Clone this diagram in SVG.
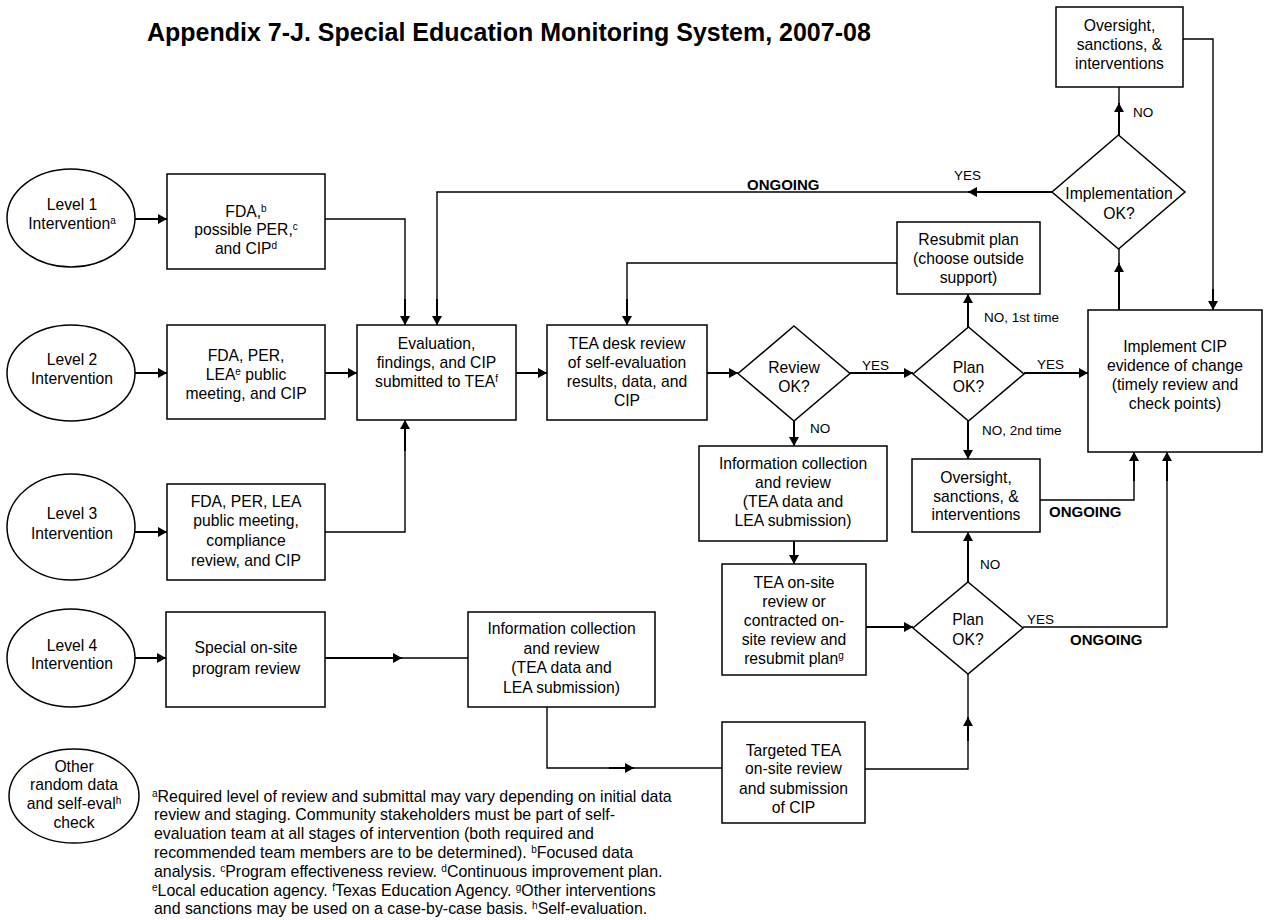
<svg xmlns="http://www.w3.org/2000/svg" width="1265" height="920" viewBox="0 0 1265 920">
<defs>
<marker id="ah" viewBox="0 0 9 10" refX="9" refY="5" markerWidth="9" markerHeight="10" markerUnits="userSpaceOnUse" orient="auto"><path d="M0,0 L9,5 L0,10 z" fill="#000"/></marker>
<style>
.bx{fill:#fff;stroke:#000;stroke-width:1.5}
.t{font-family:"Liberation Sans",Arial,sans-serif;font-size:15.7px;text-anchor:middle;fill:#000}
.s{font-family:"Liberation Sans",Arial,sans-serif;font-size:13.5px;fill:#000}
.b{font-family:"Liberation Sans",Arial,sans-serif;font-size:15px;font-weight:bold;fill:#000}
.fn{font-family:"Liberation Sans",Arial,sans-serif;font-size:15.9px;fill:#000}
.ttl{font-family:"Liberation Sans",Arial,sans-serif;font-size:25px;font-weight:bold;fill:#000}
.c{fill:none;stroke:#000;stroke-width:1.4}
.a{fill:none;stroke:#000;stroke-width:2;marker-end:url(#ah)}
</style>
</defs>
<rect width="1265" height="920" fill="#fff"/>
<text class="ttl" x="147" y="41">Appendix 7-J. Special Education Monitoring System, 2007-08</text>

<g id="connectors">
<line class="a" x1="135" y1="219" x2="167" y2="219"/>
<line class="a" x1="135" y1="373" x2="167" y2="373"/>
<line class="a" x1="135" y1="532" x2="167" y2="532"/>
<line class="a" x1="134" y1="658" x2="166" y2="658"/>
<polyline class="c" points="325,219 405,219 405,300"/>
<line class="a" x1="405" y1="299" x2="405" y2="325"/>
<line class="a" x1="325" y1="373" x2="357" y2="373"/>
<polyline class="c" points="325,532 405,532 405,450"/>
<line class="a" x1="405" y1="451" x2="405" y2="420"/>
<line class="a" x1="516" y1="373" x2="547" y2="373"/>
<line class="a" x1="707" y1="373" x2="738" y2="373"/>
<line class="a" x1="850" y1="373" x2="913" y2="373"/>
<line class="a" x1="1024" y1="373" x2="1088" y2="373"/>
<line class="a" x1="968" y1="327" x2="968" y2="294"/>
<polyline class="c" points="897,263 627,263 627,300"/>
<line class="a" x1="627" y1="299" x2="627" y2="325"/>
<line class="a" x1="968" y1="421" x2="968" y2="459"/>
<line class="a" x1="794" y1="421" x2="794" y2="446"/>
<line class="a" x1="794" y1="541" x2="794" y2="564"/>
<line class="a" x1="866" y1="627" x2="913" y2="627"/>
<line class="a" x1="968" y1="582" x2="968" y2="532"/>
<polyline class="c" points="1040,500 1134,500 1134,480"/>
<line class="a" x1="1134" y1="481" x2="1134" y2="452"/>
<polyline class="c" points="1023,627 1167,627 1167,480"/>
<line class="a" x1="1167" y1="481" x2="1167" y2="452"/>
<line class="a" x1="1119" y1="310" x2="1119" y2="263"/>
<line class="c" x1="1119" y1="264" x2="1119" y2="249"/>
<line class="a" x1="1119" y1="135" x2="1119" y2="103"/>
<line class="c" x1="1119" y1="104" x2="1119" y2="87"/>
<line class="a" x1="1052" y1="192" x2="968" y2="192"/>
<polyline class="c" points="969,192 437,192 437,300"/>
<line class="a" x1="437" y1="299" x2="437" y2="325"/>
<polyline class="c" points="1183,39 1213,39 1213,290"/>
<line class="a" x1="1213" y1="289" x2="1213" y2="310"/>
<line class="a" x1="325" y1="658" x2="402" y2="658"/>
<line class="c" x1="401" y1="658" x2="468" y2="658"/>
<polyline class="c" points="547,707 547,768 610,768"/>
<line class="a" x1="609" y1="768" x2="634" y2="768"/>
<line class="c" x1="633" y1="768" x2="722" y2="768"/>
<polyline class="c" points="865,769 968,769 968,740"/>
<line class="a" x1="968" y1="741" x2="968" y2="717"/>
<line class="c" x1="968" y1="718" x2="968" y2="674"/>
<text class="s" x="954" y="180">YES</text>
<text class="b" x="747" y="189.5">ONGOING</text>
<text class="s" x="1133" y="117">NO</text>
<text class="s" x="984" y="322">NO, 1st time</text>
<text class="s" x="862" y="370">YES</text>
<text class="s" x="1037" y="369">YES</text>
<text class="s" x="810" y="433">NO</text>
<text class="s" x="982" y="435">NO, 2nd time</text>
<text class="b" x="1049" y="517">ONGOING</text>
<text class="s" x="980" y="569">NO</text>
<text class="s" x="1027" y="624">YES</text>
<text class="b" x="1070" y="645">ONGOING</text>
</g>

<g id="level1">
<ellipse class="bx" cx="71" cy="218" rx="64" ry="49"/>
<text class="t" x="72" y="209.5">Level 1</text>
<text class="t" x="72" y="228.5">Intervention<tspan dy="-5" font-size="10">a</tspan></text>
</g>
<g id="level2">
<ellipse class="bx" cx="71" cy="373" rx="64" ry="48"/>
<text class="t" x="72" y="364.5">Level 2</text>
<text class="t" x="72" y="383.5">Intervention</text>
</g>
<g id="level3">
<ellipse class="bx" cx="71" cy="527" rx="64" ry="53"/>
<text class="t" x="72" y="518.5">Level 3</text>
<text class="t" x="72" y="538.5">Intervention</text>
</g>
<g id="level4">
<ellipse class="bx" cx="71" cy="658" rx="64" ry="49"/>
<text class="t" x="72" y="650.5">Level 4</text>
<text class="t" x="72" y="668.5">Intervention</text>
</g>
<g id="other">
<ellipse class="bx" cx="74" cy="796" rx="65" ry="47"/>
<text class="t" x="74" y="771.5">Other</text>
<text class="t" x="74" y="789.5">random data</text>
<text class="t" x="74" y="808.5">and self-eval<tspan dy="-5" font-size="10">h</tspan></text>
<text class="t" x="74" y="827.5">check</text>
</g>

<g id="fda1">
<rect class="bx" x="167" y="174" width="158" height="95"/>
<text class="t" x="246" y="216.5">FDA,<tspan dy="-5" font-size="10">b</tspan></text>
<text class="t" x="246" y="234.5">possible PER,<tspan dy="-5" font-size="10">c</tspan></text>
<text class="t" x="246" y="253.5">and CIP<tspan dy="-5" font-size="10">d</tspan></text>
</g>
<g id="fda2">
<rect class="bx" x="167" y="325" width="158" height="94"/>
<text class="t" x="246" y="360.5">FDA, PER,</text>
<text class="t" x="246" y="379.5">LEA<tspan dy="-5" font-size="10">e</tspan><tspan dy="5"> public</tspan></text>
<text class="t" x="246" y="398.5">meeting, and CIP</text>
</g>
<g id="fda3">
<rect class="bx" x="167" y="484" width="158" height="96"/>
<text class="t" x="246" y="506.5">FDA, PER, LEA</text>
<text class="t" x="246" y="525.5">public meeting,</text>
<text class="t" x="246" y="545.5">compliance</text>
<text class="t" x="246" y="565.5">review, and CIP</text>
</g>
<g id="special">
<rect class="bx" x="166" y="612" width="159" height="95"/>
<text class="t" x="246" y="653">Special on-site</text>
<text class="t" x="246" y="673.5">program review</text>
</g>
<g id="evaluation">
<rect class="bx" x="357" y="325" width="159" height="95"/>
<text class="t" x="436.5" y="348.5">Evaluation,</text>
<text class="t" x="436.5" y="367.5">findings, and CIP</text>
<text class="t" x="436.5" y="386.5">submitted to TEA<tspan dy="-5" font-size="10">f</tspan></text>
</g>
<g id="teadesk">
<rect class="bx" x="547" y="325" width="160" height="95"/>
<text class="t" x="627" y="348.5">TEA desk review</text>
<text class="t" x="627" y="367.5">of self-evaluation</text>
<text class="t" x="627" y="386.5">results, data, and</text>
<text class="t" x="627" y="405.5">CIP</text>
</g>
<g id="reviewok">
<polygon class="bx" points="794,326 850,373.5 794,421 738,373.5"/>
<text class="t" x="794" y="372.5">Review</text>
<text class="t" x="794" y="391.5">OK?</text>
</g>
<g id="planok1">
<polygon class="bx" points="968.5,327 1024,374 968.5,421 913,374"/>
<text class="t" x="968.5" y="372.5">Plan</text>
<text class="t" x="968.5" y="391.5">OK?</text>
</g>
<g id="resubmit">
<rect class="bx" x="897" y="222" width="143" height="72"/>
<text class="t" x="968.5" y="244.5">Resubmit plan</text>
<text class="t" x="968.5" y="263.5">(choose outside</text>
<text class="t" x="968.5" y="282.5">support)</text>
</g>
<g id="oversight-top">
<rect class="bx" x="1056" y="7" width="127" height="80"/>
<text class="t" x="1119.5" y="30.5">Oversight,</text>
<text class="t" x="1119.5" y="49.5">sanctions, &amp;</text>
<text class="t" x="1119.5" y="68.5">interventions</text>
</g>
<g id="implementation-ok">
<polygon class="bx" points="1118.5,135 1185,192 1118.5,249 1052,192"/>
<text class="t" x="1119" y="198.5">Implementation</text>
<text class="t" x="1119" y="218.5">OK?</text>
</g>
<g id="implement-cip">
<rect class="bx" x="1088" y="310" width="174" height="142"/>
<text class="t" x="1175" y="351.5">Implement CIP</text>
<text class="t" x="1175" y="370.5">evidence of change</text>
<text class="t" x="1175" y="389.5">(timely review and</text>
<text class="t" x="1175" y="408.5">check points)</text>
</g>
<g id="info1">
<rect class="bx" x="699" y="446" width="188" height="95"/>
<text class="t" x="793" y="468.5">Information collection</text>
<text class="t" x="793" y="487.5">and review</text>
<text class="t" x="793" y="506.5">(TEA data and</text>
<text class="t" x="793" y="525.5">LEA submission)</text>
</g>
<g id="oversight-mid">
<rect class="bx" x="912" y="459" width="128" height="73"/>
<text class="t" x="976" y="482.5">Oversight,</text>
<text class="t" x="976" y="501.5">sanctions, &amp;</text>
<text class="t" x="976" y="519.5">interventions</text>
</g>
<g id="tea-onsite">
<rect class="bx" x="722" y="564" width="144" height="111"/>
<text class="t" x="794" y="587.5">TEA on-site</text>
<text class="t" x="794" y="606.5">review or</text>
<text class="t" x="794" y="625.5">contracted on-</text>
<text class="t" x="794" y="644.5">site review and</text>
<text class="t" x="794" y="663.5">resubmit plan<tspan dy="-5" font-size="10">g</tspan></text>
</g>
<g id="planok2">
<polygon class="bx" points="968,582 1023,628 968,674 913,628"/>
<text class="t" x="968" y="624.5">Plan</text>
<text class="t" x="968" y="644.5">OK?</text>
</g>
<g id="info2">
<rect class="bx" x="468" y="612" width="187" height="95"/>
<text class="t" x="561.5" y="633.5">Information collection</text>
<text class="t" x="561.5" y="653.5">and review</text>
<text class="t" x="561.5" y="672.5">(TEA data and</text>
<text class="t" x="561.5" y="692.5">LEA submission)</text>
</g>
<g id="targeted">
<rect class="bx" x="722" y="722" width="143" height="101"/>
<text class="t" x="793.5" y="755.5">Targeted TEA</text>
<text class="t" x="793.5" y="773.5">on-site review</text>
<text class="t" x="793.5" y="793.5">and submission</text>
<text class="t" x="793.5" y="812.5">of CIP</text>
</g>

<g id="footnotes">
<text class="fn" x="152" y="801.5"><tspan dy="-5" font-size="10">a</tspan><tspan dy="5">Required level of review and submittal may vary depending on initial data</tspan></text>
<text class="fn" x="154" y="819.5">review and staging. Community stakeholders must be part of self-</text>
<text class="fn" x="154" y="838.5">evaluation team at all stages of intervention (both required and</text>
<text class="fn" x="154" y="857.5">recommended team members are to be determined). <tspan dy="-5" font-size="10">b</tspan><tspan dy="5">Focused data</tspan></text>
<text class="fn" x="154" y="876.5">analysis. <tspan dy="-5" font-size="10">c</tspan><tspan dy="5">Program effectiveness review. </tspan><tspan dy="-5" font-size="10">d</tspan><tspan dy="5">Continuous improvement plan.</tspan></text>
<text class="fn" x="152" y="895.5"><tspan dy="-5" font-size="10">e</tspan><tspan dy="5">Local education agency. </tspan><tspan dy="-5" font-size="10">f</tspan><tspan dy="5">Texas Education Agency. </tspan><tspan dy="-5" font-size="10">g</tspan><tspan dy="5">Other interventions</tspan></text>
<text class="fn" x="154" y="913.5">and sanctions may be used on a case-by-case basis. <tspan dy="-5" font-size="10">h</tspan><tspan dy="5">Self-evaluation.</tspan></text>
</g>
</svg>
